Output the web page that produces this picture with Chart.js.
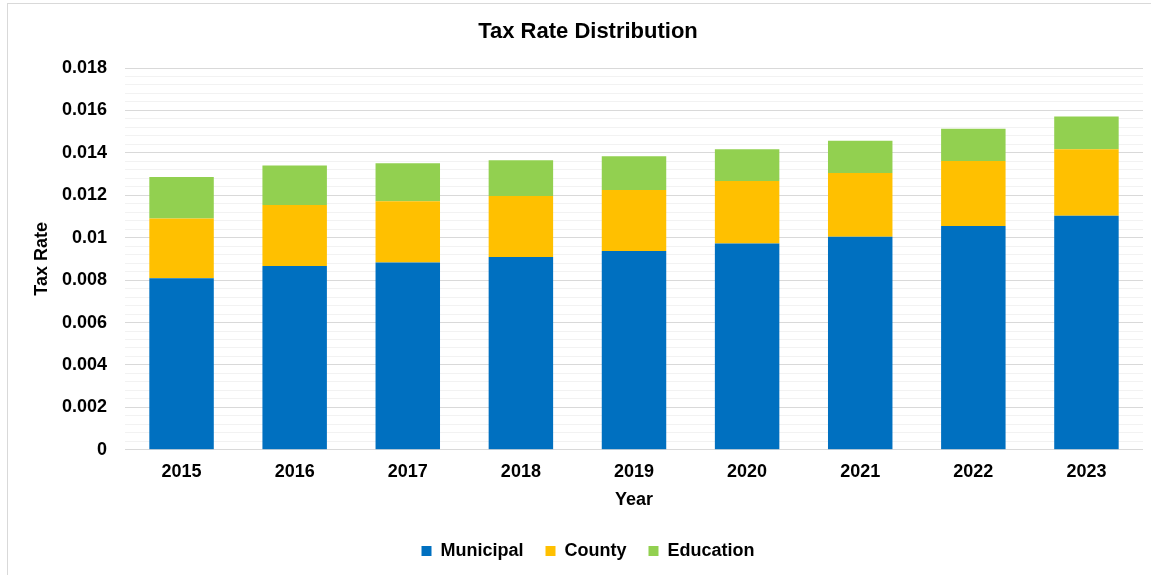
<!DOCTYPE html>
<html>
<head>
<meta charset="utf-8">
<title>Tax Rate Distribution</title>
<script src="https://cdn.jsdelivr.net/npm/chart.js@4"></script>
<style>
  html, body { margin: 0; padding: 0; background: #fff; overflow: hidden; }
  #frame {
    position: absolute;
    left: 7px;
    top: 3px;
    width: 1160px;
    height: 600px;
    border: 1px solid #d9d9d9;
  }
  #plot {
    position: relative;
    width: 1160px;
    height: 566px;
  }
</style>
</head>
<body>
<div id="frame"><div id="plot"><canvas id="taxChart"></canvas></div></div>
<script>
var years = ["2015", "2016", "2017", "2018", "2019", "2020", "2021", "2022", "2023"];
var municipal = [0.00809, 0.00867, 0.00883, 0.00909, 0.00937, 0.00973, 0.01005, 0.01055, 0.01103];
var county = [0.00281, 0.00287, 0.00289, 0.00287, 0.00288, 0.00294, 0.003, 0.00307, 0.00314];
var education = [0.00196, 0.00186, 0.00179, 0.00169, 0.00159, 0.0015, 0.00152, 0.00152, 0.00154];

var font = "'Liberation Sans', Arial, sans-serif";

Chart.defaults.font.family = font;
Chart.defaults.font.weight = "bold";
Chart.defaults.color = "#000";

function series(label, data, color) {
  return {
    label: label,
    data: data,
    backgroundColor: color,
    borderWidth: 0,
    categoryPercentage: 1,
    barPercentage: 0.57,
  };
}

var taxChart = new Chart(document.getElementById("taxChart"), {
  type: "bar",
  data: {
    labels: years,
    datasets: [
      series("Municipal", municipal, "#0070C0"),
      series("County", county, "#FFC000"),
      series("Education", education, "#92D050"),
    ],
  },
  options: {
    responsive: true,
    maintainAspectRatio: false,
    animation: false,
    layout: {
      padding: { left: 25, right: 25, top: 0, bottom: 0 },
    },
    scales: {
      x: {
        stacked: true,
        grid: { display: false, drawTicks: false },
        border: { display: false },
        ticks: {
          padding: 11.2,
          font: { size: 18, weight: "bold" },
        },
        title: {
          display: true,
          text: "Year",
          font: { size: 18, weight: "bold" },
          padding: { top: -4.8, bottom: 9.4 },
        },
      },
      y: {
        stacked: true,
        min: 0,
        max: 0.018,
        border: { display: false },
        grid: {
          drawTicks: false,
          // major line every 0.002, minor lines in between
          color: function (context) {
            return context.index % 5 === 0 ? "#d9d9d9" : "#f2f2f2";
          },
        },
        ticks: {
          stepSize: 0.0004,
          autoSkip: false,
          padding: 18,
          font: { size: 18, weight: "bold" },
          callback: function (value, index) {
            if (index % 5 !== 0) return "";
            return String(+value.toFixed(3));
          },
        },
        title: {
          display: true,
          text: "Tax Rate",
          font: { size: 18, weight: "bold" },
          padding: { top: -1.3, bottom: 0 },
        },
        afterFit: function (scale) {
          scale.width = 92;
        },
      },
    },
    plugins: {
      title: {
        display: true,
        text: "Tax Rate Distribution",
        font: { size: 22, weight: "bold" },
        padding: { top: 14.8, bottom: 22.8 },
      },
      legend: {
        position: "bottom",
        labels: {
          boxWidth: 10,
          boxHeight: 10,
          padding: 22,
          font: { size: 18, weight: "bold" },
        },
      },
      tooltip: { enabled: false },
    },
  },
});
</script>
</body>
</html>
